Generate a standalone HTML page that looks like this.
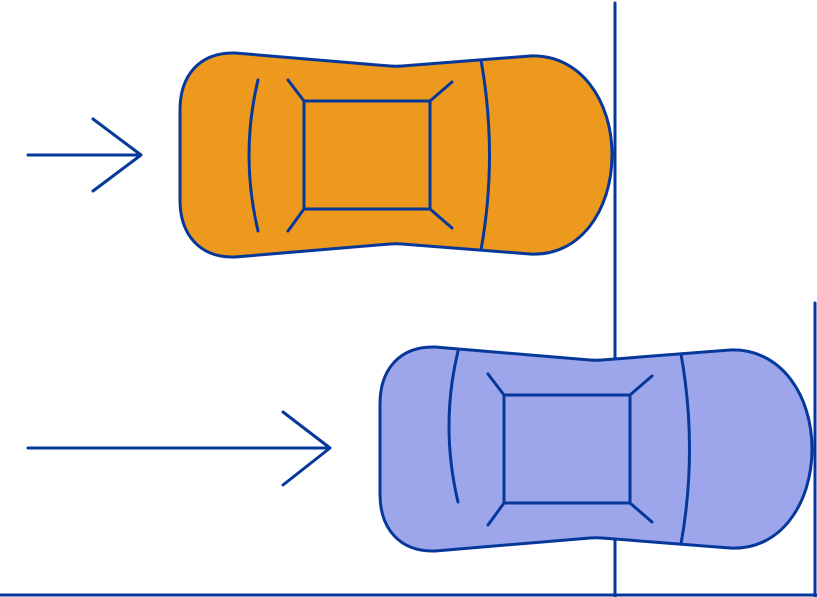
<!DOCTYPE html>
<html><head><meta charset="utf-8"><style>html,body{margin:0;padding:0;background:#fff}svg{display:block}</style></head>
<body>
<svg width="817" height="597" viewBox="0 0 817 597" xmlns="http://www.w3.org/2000/svg">
<defs>
<g id="body">
<path d="M235,53 L390,66 Q396,66.5 402,66 L530,56 C580,54 612,100 612,155 C612,210 580,257 530,254 L402,244 Q396,243.5 390,244 L235,257 C200,258 180,235 180,200 L180,110 C180,75 200,52 235,53 Z"/>
<rect x="304" y="101" width="126" height="108" fill="none"/>
<path d="M304,101 L288,80 M430,101 L452,82 M304,209 L288,231 M430,209 L452,228" fill="none"/>
<path d="M481,60 Q498,155 481,250" fill="none"/>
</g>
</defs>
<g stroke="#06389B" stroke-width="3" stroke-linecap="round" stroke-linejoin="round" fill="none">
<line x1="615" y1="3" x2="615" y2="597"/>
<line x1="815" y1="303" x2="815" y2="597"/>
<line x1="0" y1="595" x2="817" y2="595"/>
<path d="M28,155 L141,155 M93,119 L141,155 L93,191"/>
<path d="M28,448 L330,448 M283,412 L330,448 L283,485"/>
<use href="#body" fill="#EC991E"/>
<path d="M258,80 Q240,155 258,231"/>
<use href="#body" fill="#9DA6EB" transform="translate(200,294)"/>
<path d="M458,351 Q440,426 458,502"/>
</g>
</svg>
</body></html>
